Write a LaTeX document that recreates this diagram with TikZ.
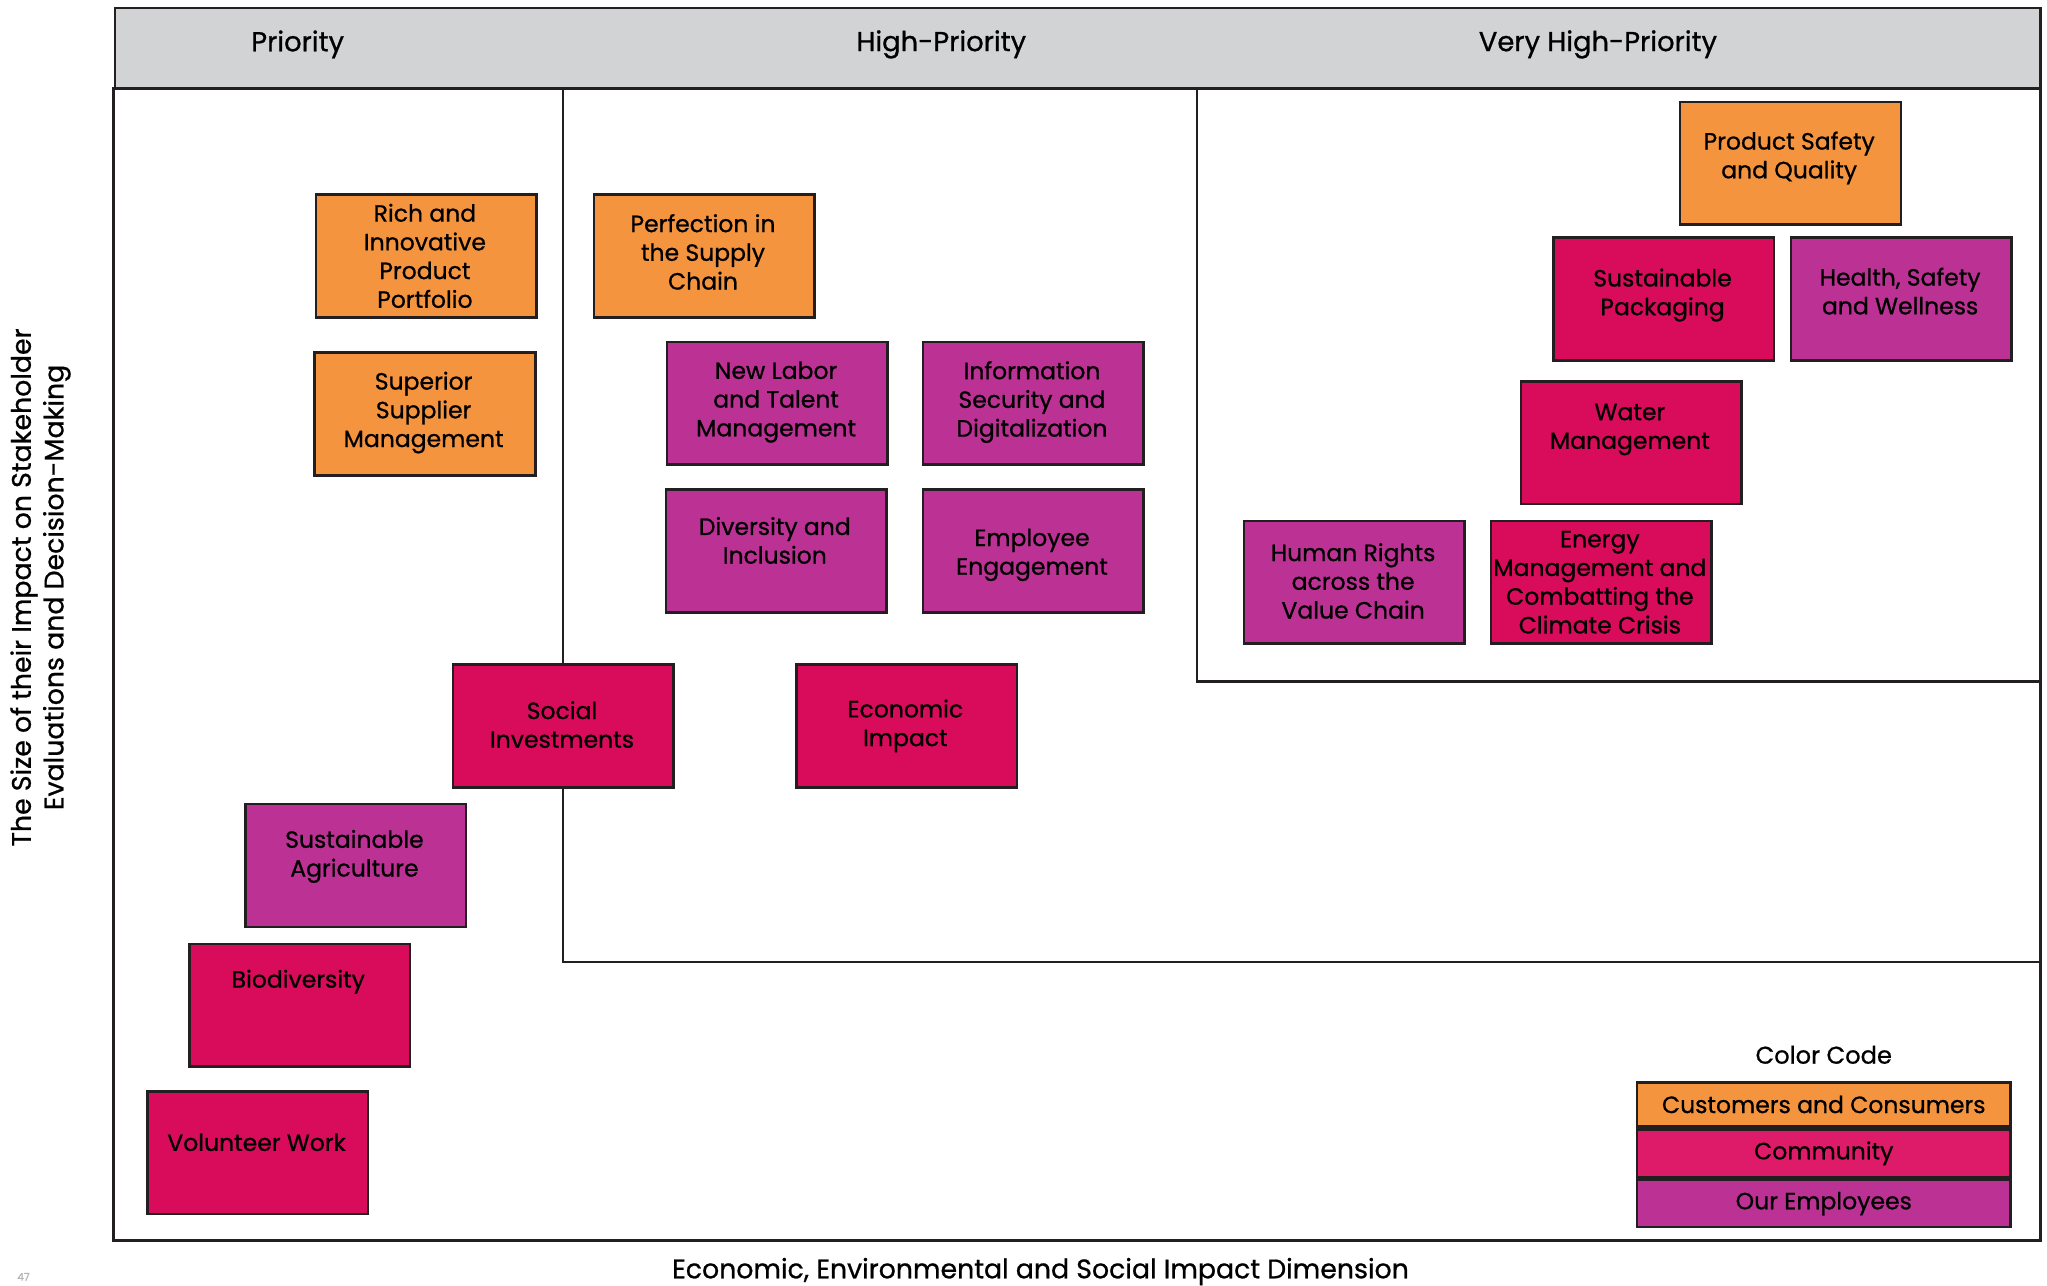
\documentclass[tikz,border=0pt]{standalone}
\usepackage{fontspec}
\setmainfont{Poppins}[FakeBold=0.8]
\definecolor{custorange}{HTML}{F4943F}
\definecolor{commred}{HTML}{D90B5B}
\definecolor{commlegend}{HTML}{DD1B68}
\definecolor{emppurple}{HTML}{BC3294}
\definecolor{headgray}{HTML}{D1D3D4}
\definecolor{edge}{HTML}{231F20}

% one topic tile: name, fill, left x, top y, text centre y, text
\newcommand\topictile[6]{%
  \node[tile, fill=#2, anchor=north west] (#1) at (#3,#4) {};
  \node[tiletext] (#1-text) at ({#3+84.5},{#5}) {#6};
}

\begin{document}
\begin{tikzpicture}[x=1pt,y=-1pt,
  tile/.style={draw=edge, line width=2pt, minimum width=169pt, minimum height=94pt, inner sep=0pt},
  tiletext/.style={align=center, font=\fontsize{18}{22}\selectfont, inner sep=0pt},
  headtext/.style={font=\fontsize{21}{24}\selectfont, inner sep=0pt},
  keytext/.style={font=\fontsize{18.5}{22}\selectfont, inner sep=0pt},
  legendrow/.style={draw=edge, line width=2pt, minimum width=286pt, anchor=north, inner sep=0pt,
    font=\fontsize{18}{20}\selectfont},
  axistext/.style={align=center, font=\fontsize{20.5}{25}\selectfont, inner sep=0pt},
  region/.style={draw=edge, line width=1.6pt}
]
\useasboundingbox (0,0) rectangle (1568,985);

% header band and frame
\node[draw=edge, line width=2pt, fill=headgray, minimum width=1475pt, minimum height=62pt,
  anchor=north west, inner sep=0pt] (head) at (87,5) {};
\node[draw=edge, line width=2pt, minimum width=1476pt, minimum height=882pt,
  anchor=north west, inner sep=0pt] (frame) at (86,67) {};

\node[headtext] (h-pri) at (228,34) {Priority};
\node[headtext] (h-high) at (721,34) {High-Priority};
\node[headtext] (h-very) at (1224,34) {Very High-Priority};

% priority zones
\coordinate (hp-top) at (431,69);
\coordinate (hp-corner) at (431,737);
\coordinate (hp-end) at (1562,737);
\coordinate (vh-top) at (917,67);
\coordinate (vh-corner) at (917,522);
\coordinate (vh-end) at (1562,522);
\draw[region] (hp-top) -- (hp-corner) -- (hp-end);
\draw[region] (vh-top) -- (vh-corner) -- (vh-end);

% topics
\topictile{rich}{custorange}{241}{148}{196}{Rich and\\Innovative\\Product\\Portfolio}
\topictile{supplier}{custorange}{240}{269}{316}{Superior\\Supplier\\Management}
\topictile{perfection}{custorange}{454}{148}{193}{Perfection in\\the Supply\\Chain}
\topictile{labor}{emppurple}{510}{261}{308}{New Labor\\and Talent\\Management}
\topictile{infosec}{emppurple}{706}{261}{308}{Information\\Security and\\Digitalization}
\topictile{diversity}{emppurple}{509}{374}{414}{Diversity and\\Inclusion}
\topictile{engagement}{emppurple}{706}{374}{425}{Employee\\Engagement}
\topictile{social}{commred}{346}{508}{555}{Social\\Investments}
\topictile{economic}{commred}{609}{508}{556}{Economic\\Impact}
\topictile{agriculture}{emppurple}{187}{615}{656}{Sustainable\\Agriculture}
\topictile{biodiversity}{commred}{144}{722}{752}{Biodiversity}
\topictile{volunteer}{commred}{112}{835}{875}{Volunteer Work}
\topictile{safety}{custorange}{1286}{77}{121}{Product Safety\\and Quality}
\topictile{packaging}{commred}{1189}{181}{226}{Sustainable\\Packaging}
\topictile{health}{emppurple}{1371}{181}{223}{Health, Safety\\and Wellness}
\topictile{water}{commred}{1164}{291}{329}{Water\\Management}
\topictile{rights}{emppurple}{952}{398}{445}{Human Rights\\across the\\Value Chain}
\topictile{energy}{commred}{1141}{398}{446}{Energy\\Management and\\Combatting the\\Climate Crisis}

% colour key
\node[keytext] (key-title) at (1397,808) {Color Code};
\node[legendrow, fill=custorange, minimum height=34pt] (key-cust) at (1397,828) {Customers and Consumers};
\node[legendrow, fill=commlegend, minimum height=37pt] (key-comm) at (key-cust.south) {Community};
\node[legendrow, fill=emppurple, minimum height=36pt] (key-emp) at (key-comm.south) {Our Employees};

% axis titles
\node[axistext, rotate=90] (y-title) at (31,450) {The Size of their Impact on Stakeholder\\Evaluations and Decision-Making};
\node[axistext] (x-title) at (797,974) {Economic, Environmental and Social Impact Dimension};

% page number in the lower corner
\node[font=\fontsize{8}{8}\selectfont, text=gray!60, inner sep=0pt] (page-no) at (18,978) {47};
\end{tikzpicture}
\end{document}
